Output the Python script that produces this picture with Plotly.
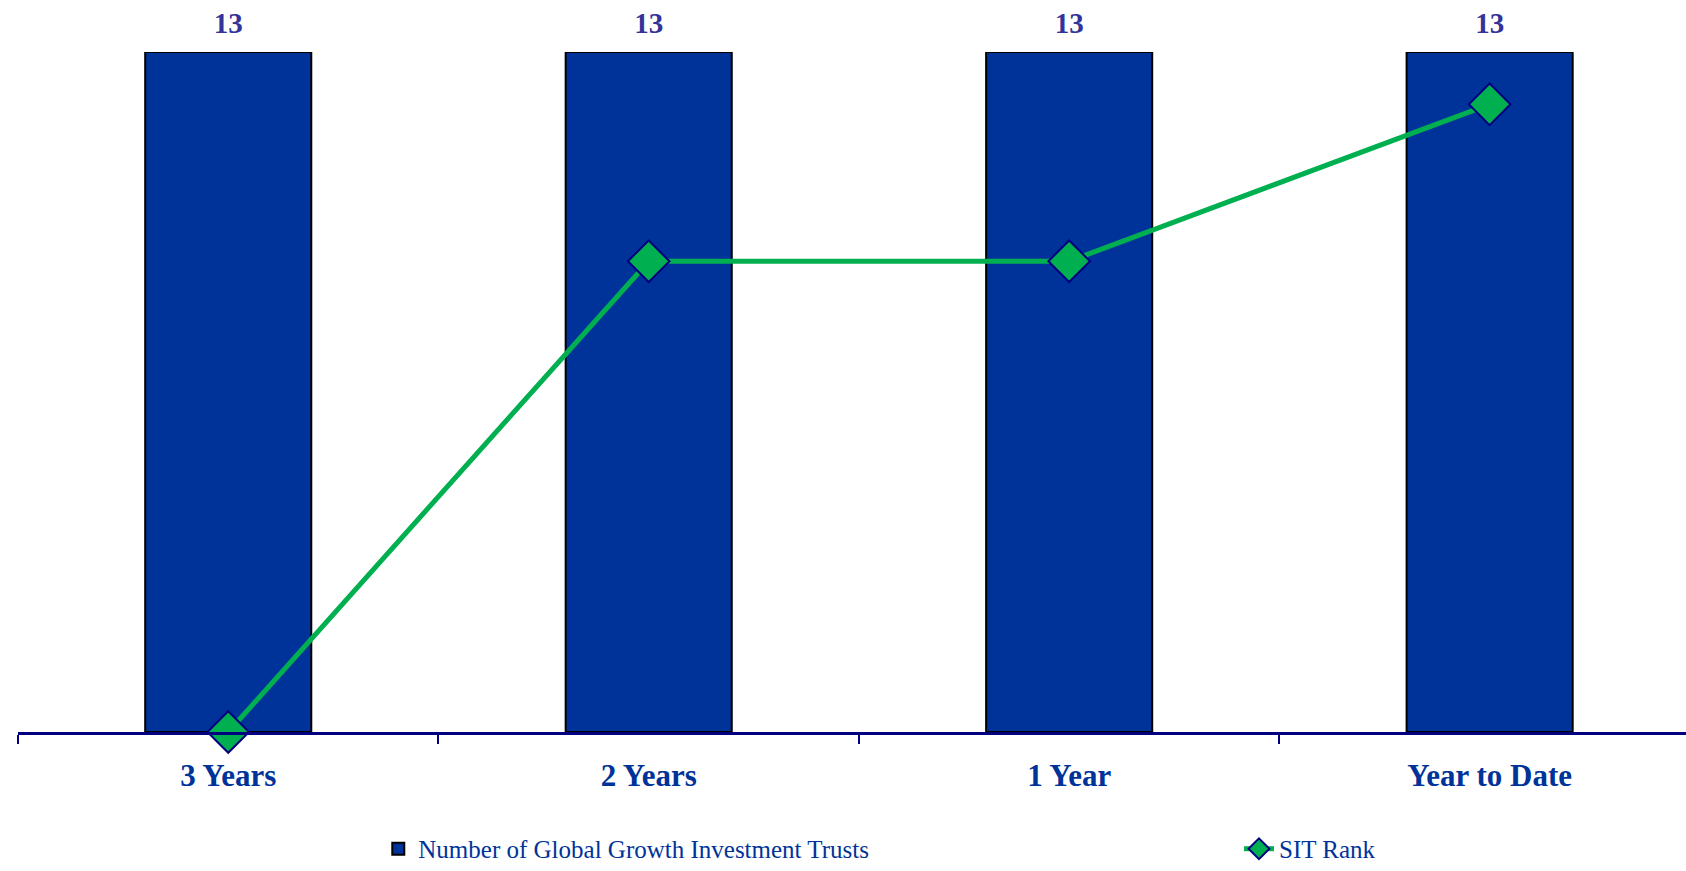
import plotly.graph_objects as go

categories = ["3 Years", "2 Years", "1 Year", "Year to Date"]
num_trusts = [13, 13, 13, 13]
sit_rank = [0, 9, 9, 12]

SERIF = "Liberation Serif, Times New Roman, serif"

fig = go.Figure()
fig.add_trace(go.Bar(
    x=categories, y=num_trusts,
    name="Number of Global Growth Investment Trusts",
    marker=dict(color="#003399", line=dict(color="#000000", width=2)),
    width=0.395, legend="legend",
))
fig.add_trace(go.Scatter(
    x=categories, y=num_trusts, mode="text+markers",
    marker=dict(size=18, opacity=0),
    text=num_trusts, texttemplate="%{y}", textposition="top center",
    textfont=dict(family=SERIF, size=29, color="#333399", weight="bold"),
    showlegend=False, hoverinfo="skip", cliponaxis=False,
))
fig.add_trace(go.Scatter(
    x=categories, y=sit_rank, name="SIT Rank",
    mode="lines+markers",
    line=dict(color="#00B050", width=5),
    marker=dict(symbol="diamond", size=32, color="#00B050",
                line=dict(color="#000080", width=2)),
    cliponaxis=False, legend="legend2",
))

legend_font = dict(family=SERIF, size=25, color="#003399")
fig.update_layout(
    width=1686, height=871,
    margin=dict(l=18, r=0, t=52, b=139, autoexpand=False),
    plot_bgcolor="white", paper_bgcolor="white",
    showlegend=True,
    legend=dict(orientation="h", x=0.216, y=-0.172, xanchor="left", yanchor="middle",
                font=legend_font, bgcolor="rgba(0,0,0,0)"),
    legend2=dict(orientation="h", x=0.732, y=-0.172, xanchor="left", yanchor="middle",
                 font=legend_font, bgcolor="rgba(0,0,0,0)"),
    xaxis=dict(range=[-0.5, 3.467], showgrid=False, showline=True,
               linecolor="#000080", linewidth=3,
               ticks="outside", tickson="boundaries", ticklen=9, tickwidth=2,
               tickcolor="#000080", ticklabelstandoff=14,
               tickfont=dict(family=SERIF, size=31, color="#003399", weight="bold")),
    yaxis=dict(range=[0, 13], visible=False, showgrid=False, zeroline=False),
    bargap=0.6,
)

fig.write_html("out.html")
